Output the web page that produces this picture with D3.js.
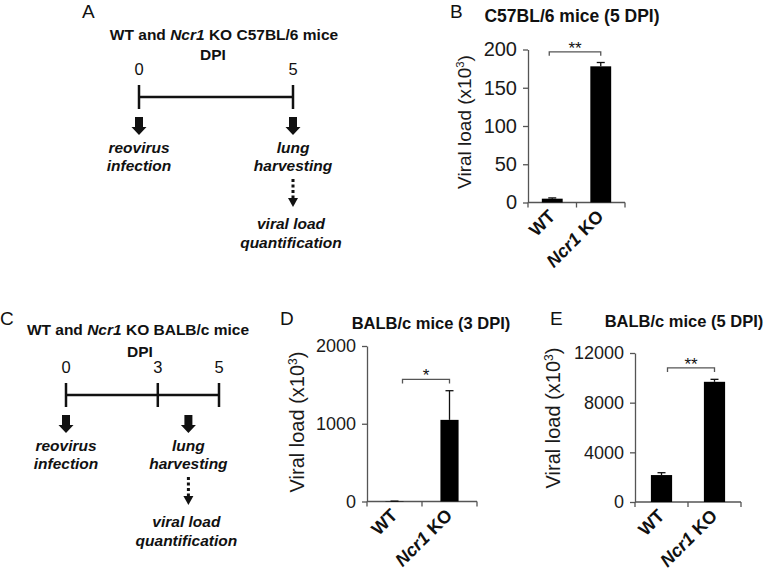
<!DOCTYPE html>
<html>
<head>
<meta charset="utf-8">
<script src="https://cdn.jsdelivr.net/npm/d3@7"></script>
<style>
  body { margin: 0; background: #fff; }
  svg { display: block; }
  text { font-family: Arial, "Liberation Sans", sans-serif; }
</style>
</head>
<body>
<div id="chart"></div>
<script>
// values (viral load x10^3)
const groups = ["WT", "Ncr1 KO"];
const c57Day5 = [5, 178];
const c57Day5Err = [1, 5];
const balbDay3 = [5, 1050];
const balbDay3Err = [0, 375];
const balbDay5 = [2170, 9680];
const balbDay5Err = [190, 200];

const c57Ticks = [0, 50, 100, 150, 200];
const balb3Ticks = [0, 1000, 2000];
const balb5Ticks = [0, 4000, 8000, 12000];

const sigMarks = ["**", "*", "**"];
const sigLevels = [197, 1570, 10800];

const daysA = [0, 5];
const daysC = [0, 3, 5];

const width = 766, height = 577;
const axisCol = "#555";

const svg = d3.select("#chart").append("svg")
  .attr("width", width)
  .attr("height", height);

// panel letters
function letter(t, x, y) {
  svg.append("text").attr("x", x).attr("y", y)
    .attr("font-size", 19).attr("fill", "#111").text(t);
}
letter("A", 82, 18);
letter("B", 450, 18);
letter("C", 0, 325);
letter("D", 280, 325);
letter("E", 550, 325);

// ---------- timelines (A, C) ----------
function timeline(cfg) {
  const g = svg.append("g");
  const x = d3.scaleLinear().domain([0, 5]).range(cfg.range);

  // title with italic gene name
  const t = g.append("text").attr("x", cfg.titleX).attr("y", cfg.titleY)
    .attr("text-anchor", "middle").attr("font-size", 15.5)
    .attr("font-weight", "bold").attr("fill", "#111");
  t.append("tspan").text("WT and ");
  t.append("tspan").attr("font-style", "italic").text("Ncr1");
  t.append("tspan").text(" KO " + cfg.strain + " mice");

  g.append("text").attr("x", cfg.dpiX).attr("y", cfg.titleY + cfg.dpiGap)
    .attr("text-anchor", "middle").attr("font-size", 15.5)
    .attr("font-weight", "bold").attr("fill", "#111").text("DPI");

  const y0 = cfg.lineY;
  g.append("line")
    .attr("x1", x(0)).attr("x2", x(5)).attr("y1", y0).attr("y2", y0)
    .attr("stroke", "#111").attr("stroke-width", 2.5);

  g.selectAll(".tk").data(cfg.days).enter().append("line")
    .attr("x1", d => x(d)).attr("x2", d => x(d))
    .attr("y1", y0 - 12).attr("y2", y0 + 12)
    .attr("stroke", "#111").attr("stroke-width", 2.5);

  g.selectAll(".num").data(cfg.days).enter().append("text")
    .attr("x", d => x(d)).attr("y", y0 - 22)
    .attr("text-anchor", "middle").attr("font-size", 16.5).attr("fill", "#111")
    .text(d => d);

  // block arrows
  const top = y0 + 20;
  const arrow = cx => `M${cx - 4},${top}L${cx + 4},${top}L${cx + 4},${top + 10}L${cx + 7.5},${top + 10}` +
    `L${cx},${top + 18}L${cx - 7.5},${top + 10}L${cx - 4},${top + 10}Z`;
  [0, cfg.harvest].forEach(d => {
    g.append("path").attr("d", arrow(x(d))).attr("fill", "#111");
  });

  const lbl = (cx, y, s) => g.append("text").attr("x", cx).attr("y", y)
    .attr("text-anchor", "middle").attr("font-size", 15.5)
    .attr("font-weight", "bold").attr("font-style", "italic").attr("fill", "#111").text(s);

  const ly = top + 36;
  lbl(x(0), ly, "reovirus");
  lbl(x(0), ly + 18, "infection");
  lbl(x(cfg.harvest), ly, "lung");
  lbl(x(cfg.harvest), ly + 18, "harvesting");

  // dotted arrow
  const hx = x(cfg.harvest);
  const dTop = ly + 26;
  g.append("line").attr("x1", hx).attr("x2", hx).attr("y1", dTop).attr("y2", dTop + 19)
    .attr("stroke", "#111").attr("stroke-width", 3).attr("stroke-dasharray", "3,2.5");
  g.append("path")
    .attr("d", `M${hx - 5},${dTop + 19}L${hx + 5},${dTop + 19}L${hx},${dTop + 28}Z`)
    .attr("fill", "#111");

  lbl(hx - 2, dTop + 50, "viral load");
  lbl(hx - 2, dTop + 69, "quantification");
}

timeline({ days: daysA, range: [139, 293], harvest: 5, strain: "C57BL/6",
  titleX: 224, titleY: 40, dpiX: 213, dpiGap: 20, lineY: 97 });
timeline({ days: daysC, range: [66, 219], harvest: 4, strain: "BALB/c",
  titleX: 138, titleY: 335, dpiX: 140, dpiGap: 22, lineY: 395 });

// ---------- bar charts (B, D, E) ----------
function barPanel(cfg) {
  const g = svg.append("g");
  const x = d3.scaleBand().domain(groups).range(cfg.xr)
    .paddingInner(cfg.pad).paddingOuter(cfg.pad / 2);
  const y = d3.scaleLinear().domain([0, cfg.max]).range(cfg.yr);
  const cx = d => x(d) + x.bandwidth() / 2;

  // title
  g.append("text").attr("x", cfg.titleX).attr("y", cfg.titleY)
    .attr("text-anchor", "middle").attr("font-size", cfg.titleFs)
    .attr("font-weight", "bold").attr("fill", "#111").text(cfg.title);

  // y axis
  const ya = g.append("g").attr("transform", `translate(${cfg.xr[0]},0)`)
    .call(d3.axisLeft(y).tickValues(cfg.ticks).tickFormat(d3.format("d"))
      .tickSize(5).tickSizeOuter(0).tickPadding(6));
  ya.select(".domain").attr("stroke", axisCol).attr("stroke-width", 1.3);
  ya.selectAll(".tick line").attr("stroke", axisCol).attr("stroke-width", 1.3);
  ya.selectAll(".tick text").attr("font-size", cfg.fs)
    .attr("font-family", cfg.font).attr("fill", "#1a1a1a");

  // x axis with ticks on category boundaries
  const base = y(0);
  g.append("line").attr("x1", cfg.xr[0]).attr("x2", cfg.xr[1])
    .attr("y1", base).attr("y2", base).attr("stroke", axisCol).attr("stroke-width", 1.3);
  const bounds = groups.map(d => x(d) - x.step() * x.paddingInner() / 2).concat([cfg.xr[1]]);
  g.selectAll(".xb").data(bounds).enter().append("line")
    .attr("x1", d => d).attr("x2", d => d).attr("y1", base).attr("y2", base + 5)
    .attr("stroke", axisCol).attr("stroke-width", 1.3);

  // error bars (upper only)
  g.selectAll(".err").data(groups).enter().append("line")
    .attr("x1", cx).attr("x2", cx)
    .attr("y1", (d, i) => y(cfg.vals[i]))
    .attr("y2", (d, i) => y(cfg.vals[i] + cfg.errs[i]))
    .attr("stroke", "#111").attr("stroke-width", 1.3);
  g.selectAll(".cap").data(groups).enter().append("line")
    .attr("x1", d => cx(d) - 4).attr("x2", d => cx(d) + 4)
    .attr("y1", (d, i) => y(cfg.vals[i] + cfg.errs[i]))
    .attr("y2", (d, i) => y(cfg.vals[i] + cfg.errs[i]))
    .attr("stroke", "#111").attr("stroke-width", 1.3);

  // bars
  g.selectAll(".bar").data(groups).enter().append("rect")
    .attr("x", d => x(d))
    .attr("y", (d, i) => y(cfg.vals[i]))
    .attr("width", x.bandwidth())
    .attr("height", (d, i) => base - y(cfg.vals[i]))
    .attr("fill", "#000");

  // significance bracket
  const sy = y(cfg.sig);
  const sx1 = cx(groups[0]) + cfg.sigShift, sx2 = cx(groups[1]);
  g.append("path")
    .attr("d", `M${sx1},${sy + 4}V${sy}H${sx2}V${sy + 4}`)
    .attr("fill", "none").attr("stroke", axisCol).attr("stroke-width", 1.3);
  g.append("text").attr("x", (sx1 + sx2) / 2).attr("y", sy + 2)
    .attr("text-anchor", "middle").attr("font-size", 17).attr("fill", "#111")
    .text(cfg.mark);

  // x labels, rotated
  groups.forEach(d => {
    const t = g.append("text")
      .attr("transform", `translate(${cx(d) + 4},${base + 15}) rotate(-45)`)
      .attr("text-anchor", "end").attr("font-size", 18)
      .attr("font-weight", "bold").attr("fill", "#111");
    if (d === "WT") {
      t.text(d);
    } else {
      t.append("tspan").attr("font-style", "italic").text("Ncr1");
      t.append("tspan").text(" KO");
    }
  });

  // y label with superscript
  const yl = g.append("text")
    .attr("transform", `translate(${cfg.labX},${cfg.labY}) rotate(-90)`)
    .attr("text-anchor", "middle").attr("dy", "0.35em")
    .attr("font-size", cfg.labFs).attr("font-family", cfg.font).attr("fill", "#1a1a1a");
  yl.append("tspan").text("Viral load (x10");
  yl.append("tspan").attr("dy", -7).attr("font-size", cfg.labFs * 0.6).text("3");
  yl.append("tspan").attr("dy", 7).text(")");
}

barPanel({ vals: c57Day5, errs: c57Day5Err, ticks: c57Ticks, max: 200,
  xr: [528, 625], yr: [202.5, 49.5], pad: 0.57, fs: 20, font: "Arial, 'Liberation Sans', sans-serif",
  title: "C57BL/6 mice (5 DPI)", titleX: 572, titleY: 22, titleFs: 17.5,
  sig: sigLevels[0], mark: sigMarks[0], sigShift: -3,
  labX: 464, labY: 122, labFs: 19 });

barPanel({ vals: balbDay3, errs: balbDay3Err, ticks: balb3Ticks, max: 2000,
  xr: [367, 477], yr: [501.5, 346], pad: 0.67, fs: 18, font: "Lato, sans-serif",
  title: "BALB/c mice (3 DPI)", titleX: 431, titleY: 329, titleFs: 16.5,
  sig: sigLevels[1], mark: sigMarks[1], sigShift: 8,
  labX: 297, labY: 422, labFs: 20 });

barPanel({ vals: balbDay5, errs: balbDay5Err, ticks: balb5Ticks, max: 12000,
  xr: [635, 741], yr: [502, 353], pad: 0.6, fs: 18, font: "Arial, 'Liberation Sans', sans-serif",
  title: "BALB/c mice (5 DPI)", titleX: 684, titleY: 327, titleFs: 16.5,
  sig: sigLevels[2], mark: sigMarks[2], sigShift: 6,
  labX: 553, labY: 418, labFs: 20 });
</script>
</body>
</html>
